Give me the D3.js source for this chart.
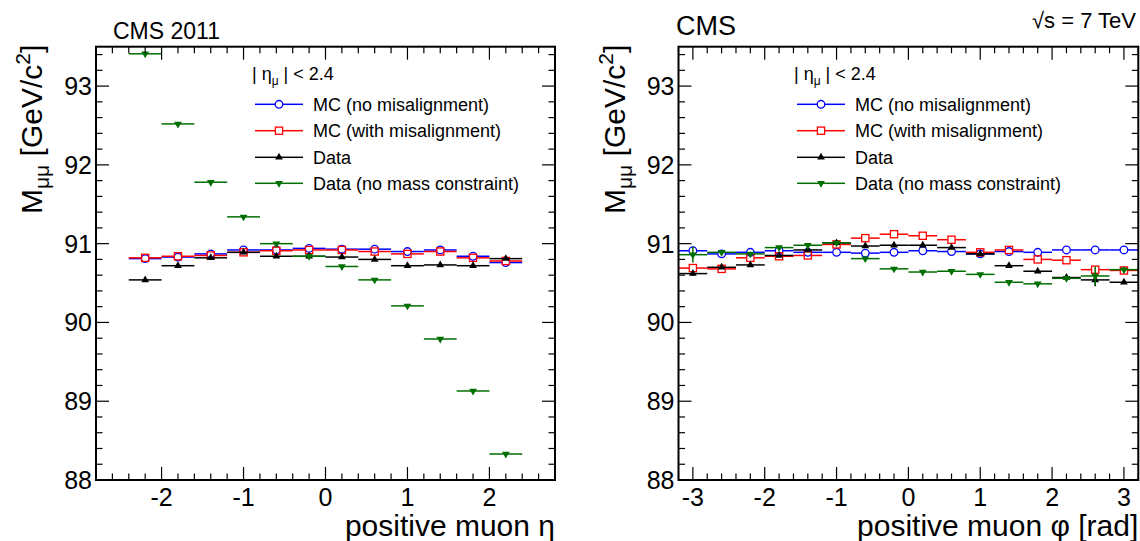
<!DOCTYPE html>
<html>
<head>
<meta charset="utf-8">
<script src="https://cdn.jsdelivr.net/npm/d3@7"></script>
<style>
  body { margin: 0; background: #fff; }
  svg { display: block; }
  text { font-family: "Liberation Sans", Arial, Helvetica, sans-serif; fill: #000; }
</style>
</head>
<body>
<svg id="chart" width="1140" height="541"></svg>
<script>
// ---------- data ----------
const yTicks = [88, 89, 90, 91, 92, 93];
const etaTicks = [-2, -1, 0, 1, 2];
const phiTicks = [-3, -2, -1, 0, 1, 2, 3];

const etaBins = [-2.2, -1.8, -1.4, -1.0, -0.6, -0.2, 0.2, 0.6, 1.0, 1.4, 1.8, 2.2];
const etaMcNoMis  = [90.81, 90.83, 90.87, 90.92, 90.92, 90.94, 90.93, 90.93, 90.90, 90.92, 90.84, 90.76];
const etaMcMis    = [90.82, 90.84, 90.85, 90.89, 90.91, 90.92, 90.92, 90.90, 90.87, 90.90, 90.82, 90.78];
const etaData     = [90.54, 90.72, 90.82, 90.89, 90.84, 90.84, 90.83, 90.80, 90.72, 90.73, 90.72, 90.81];
const etaDataNoMC = [93.41, 92.52, 91.78, 91.34, 91.00, 90.84, 90.71, 90.54, 90.21, 89.79, 89.13, 88.33];

const phiBins = [-3.0, -2.6, -2.2, -1.8, -1.4, -1.0, -0.6, -0.2, 0.2, 0.6, 1.0, 1.4, 1.8, 2.2, 2.6, 3.0];
const phiMcNoMis  = [90.91, 90.87, 90.89, 90.91, 90.89, 90.89, 90.88, 90.89, 90.91, 90.90, 90.87, 90.90, 90.89, 90.92, 90.92, 90.92];
const phiMcMis    = [90.69, 90.68, 90.82, 90.84, 90.85, 90.99, 91.07, 91.12, 91.10, 91.05, 90.89, 90.92, 90.80, 90.79, 90.67, 90.66];
const phiData     = [90.62, 90.70, 90.73, 90.85, 90.92, 91.01, 90.97, 90.98, 90.98, 90.95, 90.87, 90.72, 90.65, 90.57, 90.54, 90.51];
const phiDataNoMC = [90.86, 90.89, 90.87, 90.95, 90.98, 91.01, 90.81, 90.68, 90.64, 90.65, 90.61, 90.51, 90.49, 90.56, 90.59, 90.67];
const phiDataErr     = [0.03, 0, 0, 0, 0, 0, 0, 0, 0, 0, 0, 0, 0, 0.02, 0.08, 0.02];
const phiDataNoMCErr = [0.10, 0.02, 0, 0, 0, 0, 0, 0, 0, 0, 0, 0, 0, 0.03, 0.12, 0.03];

const seriesNames = ["MC (no misalignment)", "MC (with misalignment)", "Data", "Data (no mass constraint)"];
// ---------- styles ----------
const seriesStyle = [
  { color: "#0000ff", marker: "circle" },
  { color: "#ff0000", marker: "square" },
  { color: "#000000", marker: "triUp" },
  { color: "#006f00", marker: "triDown" }
];

const svg = d3.select("#chart");

function drawMarker(g, type, x, y, color) {
  if (type === "circle") {
    g.append("circle").attr("cx", x).attr("cy", y).attr("r", 3.8)
      .attr("fill", "none").attr("stroke", color).attr("stroke-width", 1.3);
  } else if (type === "square") {
    g.append("rect").attr("x", x - 3.6).attr("y", y - 3.6).attr("width", 7.2).attr("height", 7.2)
      .attr("fill", "none").attr("stroke", color).attr("stroke-width", 1.3);
  } else {
    const sym = d3.symbol().type(d3.symbolTriangle).size(26);
    g.append("path").attr("d", sym())
      .attr("transform", `translate(${x},${y})` + (type === "triDown" ? " rotate(180)" : ""))
      .attr("fill", color);
  }
}

function markerGap(type) { return (type === "circle" || type === "square") ? 4 : 0; }

function drawPanel(cfg) {
  const { left, right, top, bottom } = cfg;
  const x = d3.scaleLinear().domain(cfg.xDomain).range([left, right]);
  const y = d3.scaleLinear().domain([88, 93.5]).range([bottom, top]);
  const g = svg.append("g");

  // data series
  cfg.series.forEach((vals, si) => {
    const st = seriesStyle[si];
    const gs = g.append("g");
    const gap = markerGap(st.marker);
    const errs = cfg.errs ? cfg.errs[si] : null;
    vals.forEach((v, i) => {
      const xc = x(cfg.bins[i]);
      const x0 = x(cfg.bins[i] - cfg.halfWidth), x1 = x(cfg.bins[i] + cfg.halfWidth);
      const yc = y(v);
      gs.append("line").attr("x1", x0).attr("x2", xc - gap).attr("y1", yc).attr("y2", yc)
        .attr("stroke", st.color).attr("stroke-width", 1.5);
      gs.append("line").attr("x1", xc + gap).attr("x2", x1).attr("y1", yc).attr("y2", yc)
        .attr("stroke", st.color).attr("stroke-width", 1.5);
      if (errs && errs[i] > 0) {
        gs.append("line").attr("x1", xc).attr("x2", xc).attr("y1", y(v + errs[i])).attr("y2", y(v - errs[i]))
          .attr("stroke", st.color).attr("stroke-width", 1.5);
      }
      drawMarker(gs, st.marker, xc, yc, st.color);
    });
  });

  // ticks
  const tk = g.append("g").attr("stroke", "#000").attr("stroke-width", 1.2);
  const yMinor = d3.range(88, 93.5001, 0.2);
  yMinor.forEach(v => {
    const major = Math.abs(v - Math.round(v)) < 1e-6;
    const len = major ? 13 : 6.5;
    const yy = y(v);
    tk.append("line").attr("x1", left).attr("x2", left + len).attr("y1", yy).attr("y2", yy);
    tk.append("line").attr("x1", right).attr("x2", right - len).attr("y1", yy).attr("y2", yy);
  });
  const xMinor = d3.range(Math.ceil(cfg.xDomain[0] * 5) / 5, cfg.xDomain[1] + 1e-6, 0.2);
  xMinor.forEach(v => {
    const major = Math.abs(v - Math.round(v)) < 1e-6;
    const len = major ? 13 : 6.5;
    const xx = x(v);
    tk.append("line").attr("x1", xx).attr("x2", xx).attr("y1", bottom).attr("y2", bottom - len);
    tk.append("line").attr("x1", xx).attr("x2", xx).attr("y1", top).attr("y2", top + len);
  });

  // frame
  g.append("rect").attr("x", left).attr("y", top).attr("width", right - left).attr("height", bottom - top)
    .attr("fill", "none").attr("stroke", "#000").attr("stroke-width", 2);

  // tick labels
  yTicks.forEach(v => {
    g.append("text").attr("x", left - 4).attr("y", y(v) + 9).attr("text-anchor", "end")
      .attr("font-size", 25).text(v);
  });
  cfg.xTicks.forEach(v => {
    g.append("text").attr("x", x(v)).attr("y", bottom + 26).attr("text-anchor", "middle")
      .attr("font-size", 25).text(v);
  });

  // axis titles
  g.append("text").attr("x", right).attr("y", 536).attr("text-anchor", "end")
    .attr("font-size", 30).text(cfg.xTitle);

  const yt = g.append("text").attr("transform", `translate(${left - 54},${top - 2}) rotate(-90)`)
    .attr("text-anchor", "end").attr("font-size", 30);
  yt.append("tspan").text("M");
  yt.append("tspan").attr("font-size", 21).attr("dy", 7).text("μμ");
  yt.append("tspan").attr("dy", -7).text(" [GeV/c");
  yt.append("tspan").attr("font-size", 21).attr("dy", -12).text("2");
  yt.append("tspan").attr("dy", 12).text("]");

  // legend
  const lg = g.append("g");
  const lt = lg.append("text").attr("x", cfg.legX - 3).attr("y", 80).attr("font-size", 18);
  lt.append("tspan").text("| η");
  lt.append("tspan").attr("font-size", 12).attr("dy", 5).text("μ");
  lt.append("tspan").attr("dy", -5).text(" | < 2.4");
  const rows = [104.3, 130.7, 157.3, 183.3];
  seriesNames.forEach((name, si) => {
    const st = seriesStyle[si];
    const yy = rows[si];
    const mx = cfg.legX + 24;
    const gap = markerGap(st.marker);
    lg.append("line").attr("x1", cfg.legX).attr("x2", mx - gap).attr("y1", yy).attr("y2", yy)
      .attr("stroke", st.color).attr("stroke-width", 1.5);
    lg.append("line").attr("x1", mx + gap).attr("x2", cfg.legX + 48).attr("y1", yy).attr("y2", yy)
      .attr("stroke", st.color).attr("stroke-width", 1.5);
    drawMarker(lg, st.marker, mx, yy, st.color);
    lg.append("text").attr("x", cfg.legX + 58).attr("y", yy + 6.5).attr("font-size", 18).text(name);
  });
}

drawPanel({
  left: 96, right: 555, top: 46.7, bottom: 480,
  xDomain: [-2.8, 2.8], xTicks: etaTicks, bins: etaBins, halfWidth: 0.2,
  series: [etaMcNoMis, etaMcMis, etaData, etaDataNoMC],
  xTitle: "positive muon η", legX: 255
});
drawPanel({
  left: 678.5, right: 1138.3, top: 46.7, bottom: 480,
  xDomain: [-3.2, 3.2], xTicks: phiTicks, bins: phiBins, halfWidth: 0.2,
  series: [phiMcNoMis, phiMcMis, phiData, phiDataNoMC],
  errs: [null, null, phiDataErr, phiDataNoMCErr],
  xTitle: "positive muon φ [rad]", legX: 797
});

svg.append("text").attr("x", 113).attr("y", 39).attr("font-size", 23).text("CMS 2011");
svg.append("text").attr("x", 676).attr("y", 35).attr("font-size", 27).text("CMS");
svg.append("text").attr("x", 1136).attr("y", 28).attr("text-anchor", "end").attr("font-size", 22).text("√s = 7 TeV");
</script>
</body>
</html>
